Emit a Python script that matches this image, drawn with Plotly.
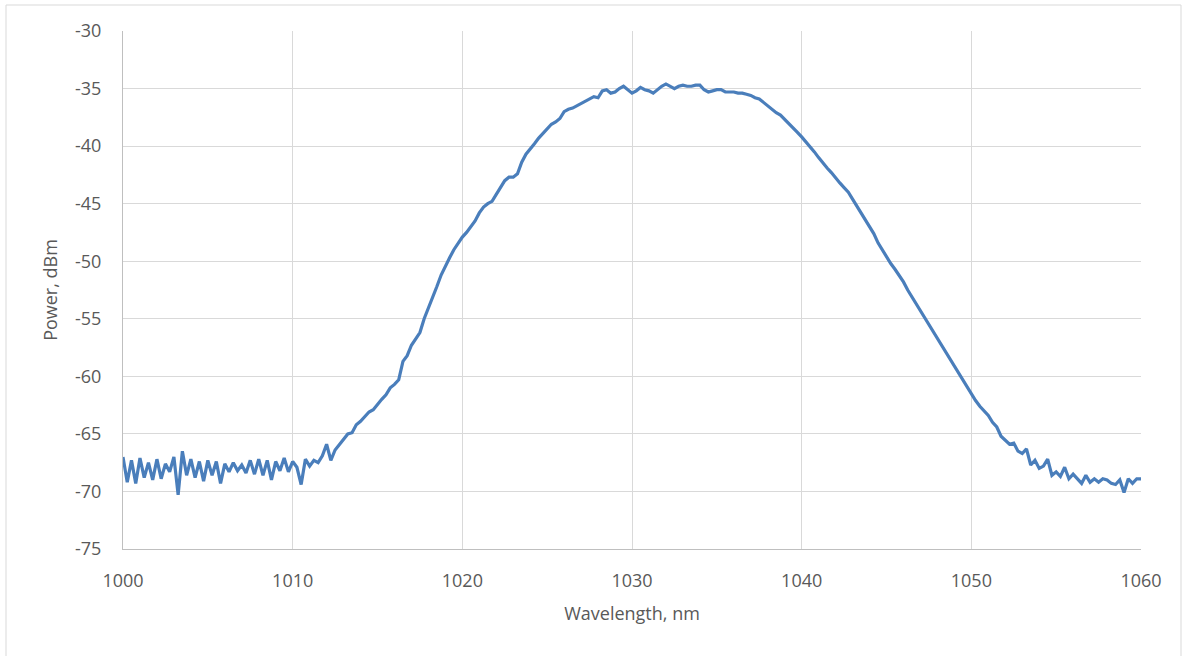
import numpy as np
import plotly.graph_objects as go

# Spectrum sampled every 0.25 nm from 1000 nm to 1060 nm (one row per nm)
start_nm = 1000.0
step_nm = 0.25
power_dbm = [
    -67.0, -69.2, -67.3, -69.3,   # 1000
    -67.1, -68.8, -67.5, -69.0,   # 1001
    -67.2, -68.9, -67.6, -68.3,   # 1002
    -67.0, -70.3, -66.5, -68.6,   # 1003
    -67.2, -68.8, -67.4, -69.1,   # 1004
    -67.3, -68.6, -67.4, -69.3,   # 1005
    -67.6, -68.3, -67.5, -68.2,   # 1006
    -67.7, -68.4, -67.3, -68.5,   # 1007
    -67.2, -68.6, -67.3, -69.0,   # 1008
    -67.4, -68.2, -67.1, -68.3,   # 1009
    -67.4, -67.9, -69.4, -67.2,   # 1010
    -67.8, -67.3, -67.5, -66.9,   # 1011
    -65.9, -67.3, -66.4, -65.9,   # 1012
    -65.5, -65.0, -64.9, -64.2,   # 1013
    -63.9, -63.5, -63.1, -62.9,   # 1014
    -62.4, -62.0, -61.6, -61.0,   # 1015
    -60.7, -60.3, -58.7, -58.2,   # 1016
    -57.3, -56.8, -56.2, -55.0,   # 1017
    -54.1, -53.1, -52.2, -51.2,   # 1018
    -50.4, -49.7, -49.0, -48.4,   # 1019
    -47.9, -47.5, -47.0, -46.5,   # 1020
    -45.8, -45.3, -45.0, -44.8,   # 1021
    -44.2, -43.6, -43.0, -42.7,   # 1022
    -42.7, -42.4, -41.4, -40.7,   # 1023
    -40.3, -39.8, -39.3, -38.9,   # 1024
    -38.4, -38.1, -37.9, -37.6,   # 1025
    -37.0, -36.8, -36.7, -36.5,   # 1026
    -36.3, -36.1, -35.9, -35.7,   # 1027
    -35.8, -35.2, -35.1, -35.4,   # 1028
    -35.3, -35.0, -34.8, -35.1,   # 1029
    -35.4, -35.2, -34.9, -35.1,   # 1030
    -35.2, -35.4, -35.1, -34.8,   # 1031
    -34.6, -34.8, -35.0, -34.8,   # 1032
    -34.7, -34.8, -34.8, -34.7,   # 1033
    -34.7, -35.1, -35.3, -35.2,   # 1034
    -35.1, -35.1, -35.3, -35.3,   # 1035
    -35.3, -35.4, -35.4, -35.5,   # 1036
    -35.6, -35.8, -35.9, -36.2,   # 1037
    -36.5, -36.8, -37.1, -37.3,   # 1038
    -37.7, -38.1, -38.5, -38.8,   # 1039
    -39.2, -39.6, -40.1, -40.5,   # 1040
    -41.0, -41.5, -41.9, -42.3,   # 1041
    -42.8, -43.2, -43.6, -44.0,   # 1042
    -44.6, -45.2, -45.7, -46.3,   # 1043
    -47.0, -47.6, -48.4, -49.0,   # 1044
    -49.7, -50.2, -50.7, -51.2,   # 1045
    -51.8, -52.5, -53.1, -53.8,   # 1046
    -54.4, -55.0, -55.6, -56.2,   # 1047
    -56.8, -57.4, -57.9, -58.5,   # 1048
    -59.1, -59.7, -60.3, -60.9,   # 1049
    -61.5, -62.1, -62.6, -63.0,   # 1050
    -63.4, -64.0, -64.4, -65.2,   # 1051
    -65.6, -65.9, -65.8, -66.5,   # 1052
    -66.7, -66.3, -67.7, -67.3,   # 1053
    -68.0, -67.8, -67.2, -68.6,   # 1054
    -68.3, -68.7, -67.9, -68.9,   # 1055
    -68.5, -68.9, -69.3, -68.6,   # 1056
    -69.2, -68.9, -69.2, -68.9,   # 1057
    -69.0, -69.3, -69.4, -69.0,   # 1058
    -70.1, -68.9, -69.3, -68.9,   # 1059
    -68.9,                        # 1060
]
wavelength_nm = start_nm + step_nm * np.arange(len(power_dbm))

x_ticks = [1000, 1010, 1020, 1030, 1040, 1050, 1060]
y_ticks = [-30, -35, -40, -45, -50, -55, -60, -65, -70, -75]

FONT = "Open Sans"
GRID = "#d9d9d9"
TEXT = "#595959"

fig = go.Figure()
fig.add_trace(go.Scatter(
    x=wavelength_nm, y=power_dbm, mode="lines",
    line=dict(color="#4a7ebb", width=3.2),
    showlegend=False, hoverinfo="x+y",
))

fig.update_layout(
    width=1185, height=656,
    margin=dict(l=123, r=44, t=31, b=107),
    paper_bgcolor="white", plot_bgcolor="white",
    font=dict(family=FONT, size=18, color=TEXT),
    xaxis=dict(
        range=[1000, 1060], tickvals=x_ticks, ticktext=[str(v) for v in x_ticks],
        showgrid=True, gridcolor=GRID, gridwidth=1,
        showline=True, linecolor="#bfbfbf", linewidth=1,
        zeroline=False, ticks="", ticklabelstandoff=15,
        title=dict(text="Wavelength, nm", font=dict(family=FONT, size=18, color=TEXT), standoff=16),
    ),
    yaxis=dict(
        range=[-75, -30], tickvals=y_ticks, ticktext=[str(v) for v in y_ticks],
        showgrid=True, gridcolor=GRID, gridwidth=1,
        showline=True, linecolor="#bfbfbf", linewidth=1,
        zeroline=False, ticks="", ticklabelstandoff=17,
        title=dict(text="Power, dBm", font=dict(family=FONT, size=18, color=TEXT), standoff=12),
    ),
    shapes=[dict(
        type="rect", xref="paper", yref="paper",
        x0=-117 / 1018, x1=(1181 - 123) / 1018, y0=-110 / 518, y1=(549 - 5) / 518,
        line=dict(color="#d9d9d9", width=1), fillcolor="rgba(0,0,0,0)", layer="below",
    )],
)

fig.write_html(
    "out.html",
    config={"displayModeBar": False},
    post_script="document.body.style.margin='0';document.body.style.padding='0';",
)
